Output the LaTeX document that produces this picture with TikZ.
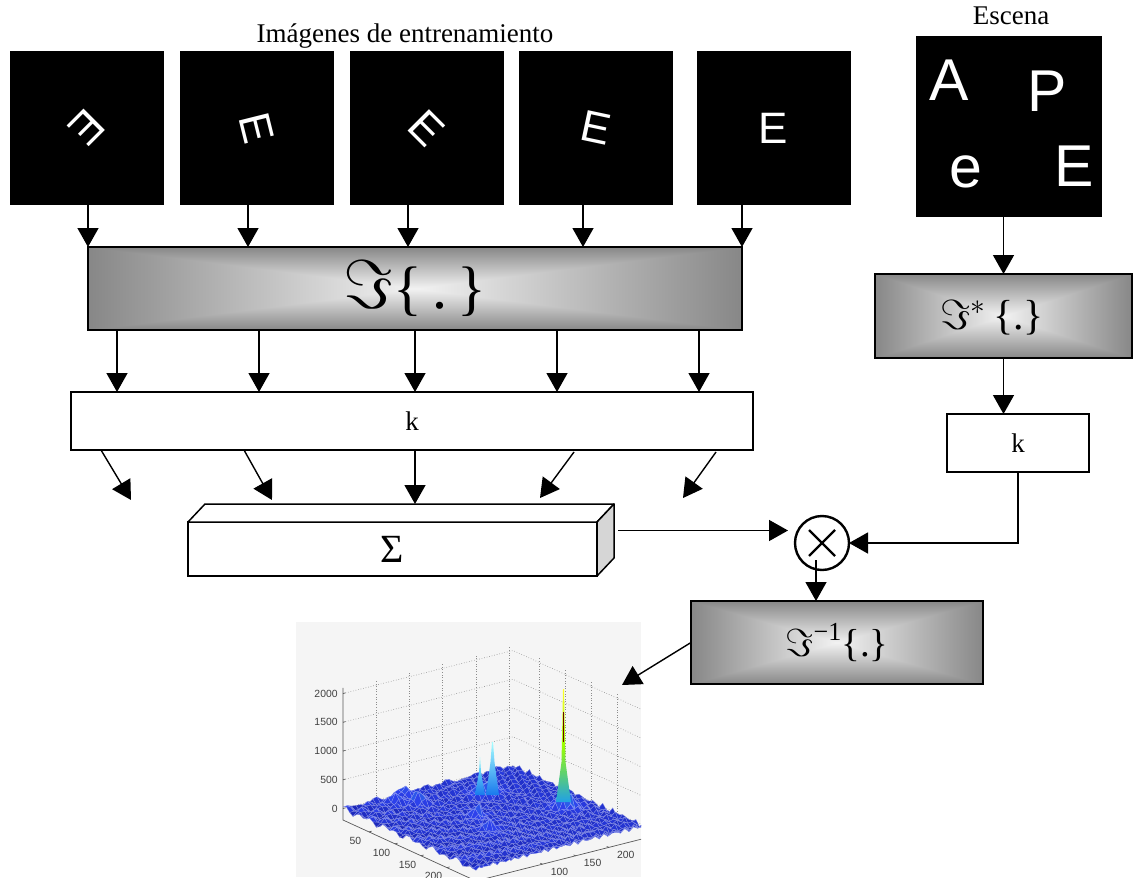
\documentclass[tikz,border=0pt]{standalone}
\usepackage{fontspec}
\setmainfont{Liberation Serif}
\newfontfamily\sansfam{Liberation Sans}
\usetikzlibrary{arrows.meta,calc}

% let the symbol font scale to any size
\DeclareFontShape{OMS}{cmsy}{m}{n}{<-6>cmsy5<6-8>cmsy7<8->cmsy10}{}

% grey "rectangle from centre" fill for the transform blocks
\pgfdeclarefunctionalshading{rectglow}{\pgfpoint{-50bp}{-50bp}}{\pgfpoint{50bp}{50bp}}{}{
  abs exch abs 2 copy lt {exch} if pop 25 div dup 1 gt {pop 1} if 0.42 mul 0.95 exch sub dup dup
}

\definecolor{surfblue}{RGB}{45,65,235}
\definecolor{surfdark}{RGB}{22,32,170}
\definecolor{peakcyan}{RGB}{40,200,225}

\tikzset{
  arr/.style={-{Triangle[length=9.5pt,width=10.5pt]}, line width=0.7pt},
  imgbox/.style={fill=black, minimum width=77pt, minimum height=77pt, inner sep=0pt, outer sep=0pt},
  trainletter/.style={text=white, font=\sansfam\fontsize{22}{22}\selectfont, inner sep=0pt},
  sceneletter/.style={text=white, font=\sansfam\fontsize{29.5}{30}\selectfont, inner sep=0pt, anchor=base},
  caption/.style={font=\fontsize{13.5}{15}\selectfont, inner sep=0pt, anchor=base},
  plainbox/.style={draw, line width=0.75pt, fill=white, inner sep=0pt, outer sep=0pt, font=\fontsize{13.5}{15}\selectfont},
  ftbox/.style={draw, line width=0.75pt, shade, shading=rectglow, inner sep=0pt, outer sep=0pt},
  mulnode/.style={circle, draw, line width=1.2pt, minimum size=27pt, inner sep=0pt, outer sep=0pt},
  gridline/.style={densely dotted, line width=0.3pt, black!45},
  axisline/.style={line width=0.35pt, black!65},
  ticklabel/.style={font=\sansfam\fontsize{5.2}{6}\selectfont, text=black!75, inner sep=0pt},
  view3d/.style={shift={(343,808.5)}, x={(0.2598pt,-0.1191pt)}, y={(0.332pt,0.084pt)}, z={(0pt,0.02875pt)}},
}

% height of the correlation surface on a 41 x 41 grid (index units, step 6.4)
\pgfmathdeclarefunction{bump}{5}{%
  \pgfmathsetmacro\bumpq{1+((#1-#3)^2+(#2-#4)^2)/#5}%
  \pgfmathparse{1/\bumpq/\bumpq}}
\foreach \i in {0,...,40}{
  \foreach \j in {0,...,40}{
    \pgfmathsetmacro\hh{38*sin(\i*97.3+\j*61.7+\i*\j*3.7)+26*cos(\i*53.1-\j*89.9+\i*\j*2.3)
      + 420*bump(\i,\j,23.3,34.1,2.5) + 260*bump(\i,\j,8.9,27.8,2.5)
      + 200*bump(\i,\j,8.9,25,2) + 260*bump(\i,\j,5.8,13.3,1.5)
      + 260*bump(\i,\j,18,17.5,1.5) + 220*bump(\i,\j,24.7,15.2,1.5)
      + 200*bump(\i,\j,0.8,14,1.5) + 180*bump(\i,\j,3,10,1.2)}
    \expandafter\xdef\csname sh\i-\j\endcsname{\hh}
  }
}

\begin{document}
\begin{tikzpicture}[x=0.5pt,y=-0.5pt]
\useasboundingbox (0,0) rectangle (1133,877);

% ---------- training images ----------
\node[caption] (ttl) at (405,43) {Imágenes de entrenamiento};
\foreach \n/\cx/\ang in {1/86.5/-135, 2/257/-76, 3/426.5/-45, 4/595.5/-12, 5/773.5/0}{
  \node[imgbox] (s\n) at (\cx,128) {};
  \node[trainletter, rotate=\ang] (e\n) at (s\n.center) {E};
}

% ---------- scene ----------
\node[caption] (esc) at (1011,25) {Escena};
\node[imgbox, minimum width=92.75pt, minimum height=90.5pt] (scene) at (1008.75,126.5) {};
\node[sceneletter] (la) at (949.5,101) {A};
\node[sceneletter] (lp) at (1047,112) {P};
\node[sceneletter] (le) at (966,188) {e};
\node[sceneletter] (lE) at (1074.5,186) {E};

% ---------- Fourier transform of the training set ----------
\node[ftbox, minimum width=327pt, minimum height=41.5pt, font=\fontsize{30}{30}\selectfont] (ft) at (415,288.5)
  {\scalebox{1.15}{$\Im$}\{\,.\,\}};
\foreach \n/\ax in {1/88,2/248,3/408,4/583,5/742}
  \draw[arr] (s\n.south -| \ax,0) -- (ft.north -| \ax,0);

% ---------- k block ----------
\node[plainbox, minimum width=341pt, minimum height=29pt] (kb) at (412,421) {k};
\foreach \ax in {117,259,415,557,699}
  \draw[arr] (ft.south -| \ax,0) -- (kb.north -| \ax,0);

% ---------- summation block ----------
\node[plainbox, minimum width=204.5pt, minimum height=27pt, font=\fontsize{20}{20}\selectfont] (sig) at (392.5,549) {Σ};
\draw[line width=0.75pt, fill=white, line join=round] (sig.north west) -- ++(17,-18) -- ($(sig.north east)+(17,-18)$) -- (sig.north east) -- cycle;
\draw[line width=0.75pt, fill=black!16, line join=round] (sig.north east) -- ++(17,-18) -- ($(sig.south east)+(17,-18)$) -- (sig.south east) -- cycle;

\coordinate (t1) at (131,500);
\coordinate (t2) at (272,500);
\coordinate (t3) at (415,504);
\coordinate (t4) at (540,498);
\coordinate (t5) at (683,498);
\draw[arr] (kb.south -| 101,0) -- (t1);
\draw[arr] (kb.south -| 244,0) -- (t2);
\draw[arr] (kb.south -| 415,0) -- (t3);
\draw[arr] ($(kb.south -| 574,0)+(0,2)$) -- (t4);
\draw[arr] ($(kb.south -| 716,0)+(0,2)$) -- (t5);

% ---------- scene branch ----------
\node[ftbox, minimum width=128.5pt, minimum height=42pt] (fs) at (1003.5,316) {};
\node[inner sep=0pt, font=\fontsize{21}{21}\selectfont] (fstxt) at (992,318) {$\Im^{*}$\,\{.\}};
\node[plainbox, minimum width=71pt, minimum height=29pt] (k2) at (1018,443) {k};
\draw[arr] (scene.south -| fs.north) -- (fs.north);
\draw[arr] (fs.south) -- (fs.south |- k2.north);

% ---------- product and inverse transform ----------
\node[mulnode] (mul) at (822,543) {};
\draw[line width=1.2pt] ($(mul.center)+(-13,-13)$) -- ($(mul.center)+(13,13)$)
                        ($(mul.center)+(13,-13)$) -- ($(mul.center)+(-13,13)$);
\draw[arr] ($(sig.north east)+(21,8.5)$) -- ($(mul.west)+(-7,-12.5)$);
\draw[arr] (k2.south) |- (mul.east);

\node[ftbox, minimum width=146pt, minimum height=41.5pt, font=\fontsize{19.5}{20}\selectfont] (fi) at (837,642.5)
  {$\Im$\raisebox{0.42em}{\fontsize{13}{13}\selectfont −1}\{.\}};
\path ($(mul.center)+(-6,17)$) coordinate (mo);
\draw[arr] (mo) -- (mo |- fi.north);

% ---------- correlation surface ----------
\node[font=\sansfam\fontsize{5}{6}\selectfont, text=black!70, inner sep=0pt] (ctitle) at (496,631) {Correlación};
\begin{scope}
  \clip (296,622) rectangle (641,877);
  \fill[black!4] (296,622) rectangle (641,877);
  \begin{scope}[view3d]
    % dotted grid on the back walls
    \foreach \z in {0,500,1000,1500,2000}{
      \draw[gridline] (0,0,\z) -- (0,256,\z) -- (256,256,\z);
    }
    \foreach \t in {50,100,150,200,250}{
      \draw[gridline] (0,\t,-200) -- (0,\t,2100);
      \draw[gridline] (\t,256,-200) -- (\t,256,2100);
    }
    % surface patches, back to front
    \foreach \i in {0,...,39}{
      \pgfmathtruncatemacro\ip{\i+1}
      \foreach \j in {39,38,...,0}{
        \pgfmathtruncatemacro\jp{\j+1}
        \edef\ha{\csname sh\i-\j\endcsname}
        \edef\hb{\csname sh\ip-\j\endcsname}
        \edef\hc{\csname sh\ip-\jp\endcsname}
        \edef\hd{\csname sh\i-\jp\endcsname}
        \pgfmathsetmacro\hm{(\ha+\hb+\hc+\hd)/4}
        \pgfmathtruncatemacro\cy{max(0,min(100,(\hm-70)/3.5))}
        \pgfmathtruncatemacro\dk{max(0,min(100,55+1.2*\hm))}
        \colorlet{qc}{surfblue!\dk!surfdark}
        \colorlet{qf}{peakcyan!\cy!qc}
        \filldraw[fill=qf, draw=qf!50!white, line width=0.12pt, line join=round]
          ({6.4*\i},{6.4*\j},\ha) -- ({6.4*\ip},{6.4*\j},\hb) -- ({6.4*\ip},{6.4*\jp},\hc) -- ({6.4*\i},{6.4*\jp},\hd) -- cycle;
      }
    }
  \end{scope}
  % sharp correlation peaks
  \shade[bottom color=peakcyan!80!blue, top color=yellow!85!white, middle color=yellow!60!green]
    (556,802) -- (561.5,762) -- (563,689) -- (564,689) -- (565.5,762) -- (571,802) -- cycle;
  \draw[line width=0.9pt, red!40!black] (563.5,742) -- (563.5,712);
  \shade[bottom color=peakcyan!60!blue, top color=cyan!35!white]
    (486,795) -- (490.5,762) -- (492,742) -- (493,742) -- (494.5,762) -- (499,795) -- cycle;
  \shade[bottom color=peakcyan!60!blue, top color=cyan!45!white]
    (475,795) -- (479,772) -- (480,757) -- (481,772) -- (485,795) -- cycle;
  \begin{scope}[view3d]
    \draw[axisline] (0,0,2100) -- (0,0,-200) -- (256,0,-200) -- (256,256,-200);
    \foreach \z in {0,500,1000,1500,2000}{
      \draw[axisline] (0,0,\z) -- (0,4,\z);
      \node[ticklabel, anchor=east, xshift=-2.5pt] (zl\z) at (0,0,\z) {\z};
    }
    \foreach \t in {50,100,150,200}{
      \draw[axisline] (\t,0,-200) -- (\t,4,-200);
      \node[ticklabel, xshift=-6.75pt, yshift=-4.35pt] (xl\t) at (\t,0,-200) {\t};
    }
    \foreach \t in {100,150,200}{
      \draw[axisline] (256,\t,-200) -- (252,\t,-200);
      \node[ticklabel, xshift=8.5pt, yshift=-3.75pt] (yl\t) at (256,\t,-200) {\t};
    }
  \end{scope}
\end{scope}
\coordinate (ctip) at (622,685);
\draw[arr] (fi.west) -- (ctip);

\end{tikzpicture}
\end{document}
